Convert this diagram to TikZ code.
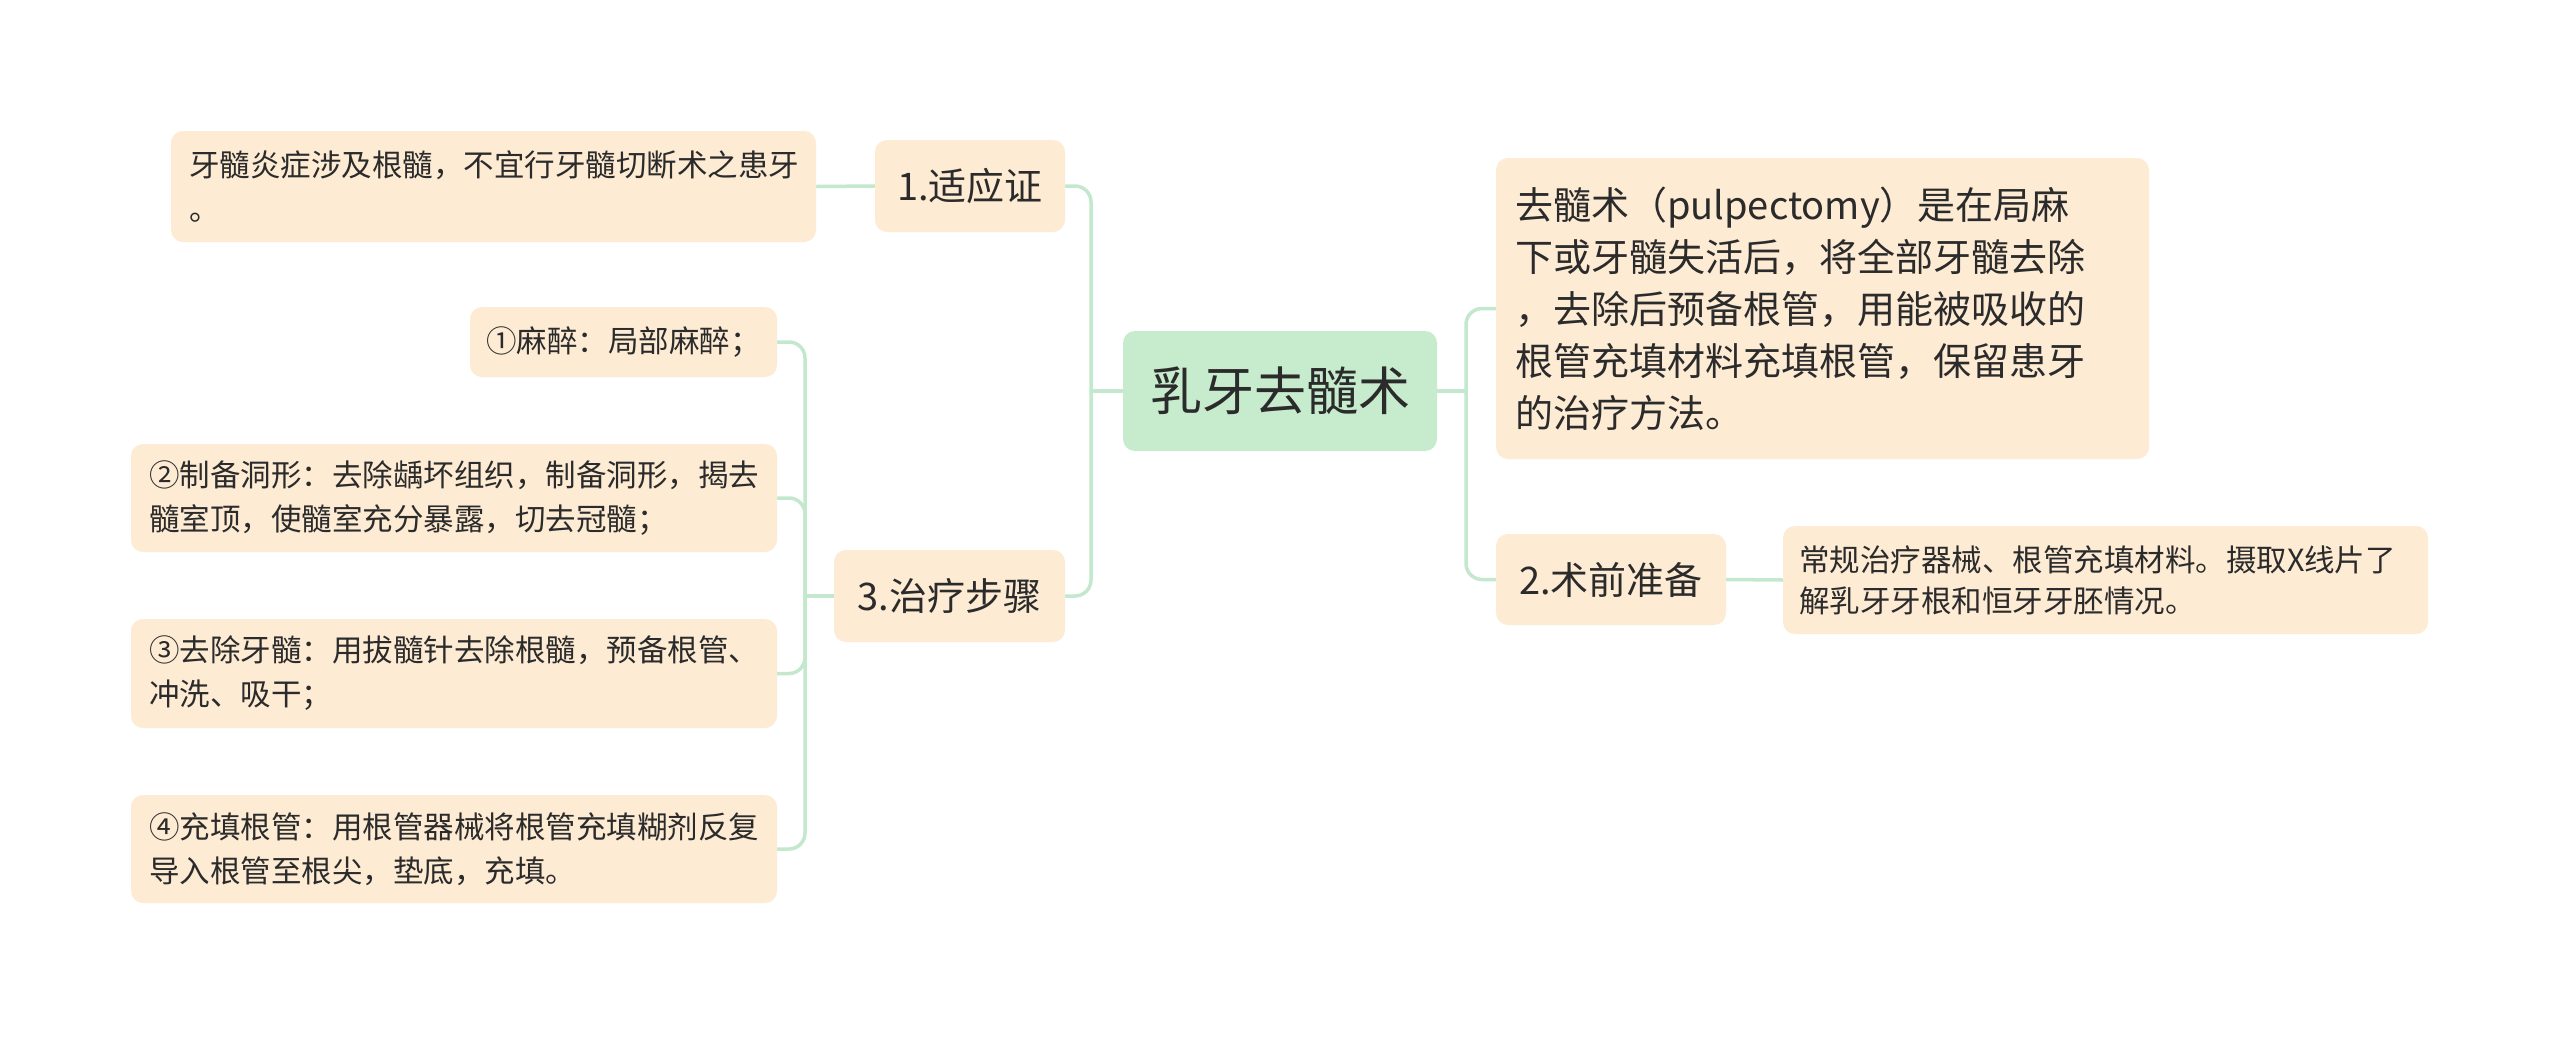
\documentclass[tikz,border=0pt]{standalone}
\usepackage{fontspec}
\setmainfont{Noto Sans CJK SC}
\usetikzlibrary{backgrounds}
\definecolor{peach}{HTML}{FDEBD4}
\definecolor{mint}{HTML}{C6EBCD}
\definecolor{linegreen}{HTML}{C4E8CD}
\definecolor{txt}{HTML}{2B2B2B}
\tikzset{
  base/.style={rounded corners=12pt, text=txt, inner ysep=0pt, align=left},
  rootbox/.style={base, fill=mint, minimum width=314pt, minimum height=120pt, align=center, font=\fontsize{52}{62}\selectfont},
  topicbox/.style={base, fill=peach, inner xsep=14pt, font=\fontsize{38}{52}\selectfont},
  leafbox/.style={base, fill=peach, inner xsep=18pt, font=\fontsize{30.5}{44}\selectfont},
  conn/.style={draw=linegreen, line width=3.5pt, rounded corners=16pt}
}
\begin{document}
\begin{tikzpicture}[x=1pt,y=-1pt]
\useasboundingbox (0,0) rectangle (2560,1037);
% root
\node[rootbox] (root) at (1280,391) {乳牙去髓术};
% right side
\node[topicbox, text width=615pt, inner xsep=19pt, minimum height=301pt] (desc) at (1822.5,308.5)
  {去髓术（pulpectomy）是在局麻\\下或牙髓失活后，将全部牙髓去除\\，去除后预备根管，用能被吸收的\\根管充填材料充填根管，保留患牙\\的治疗方法。};
\node[topicbox, minimum width=230pt, minimum height=91pt, align=center] (prep) at (1611,579.5) {2.术前准备};
\node[leafbox, text width=613pt, inner xsep=16pt, minimum height=108pt, font=\fontsize{30.5}{41}\selectfont] (prepd) at (2105.5,580)
  {常规治疗器械、根管充填材料。摄取X线片了\\解乳牙牙根和恒牙牙胚情况。};
% left side
\node[topicbox, minimum width=190pt, minimum height=92pt, align=center] (ind) at (970,186) {1.适应证};
\node[leafbox, text width=609pt, minimum height=111pt] (indd) at (493.5,186.5)
  {牙髓炎症涉及根髓，不宜行牙髓切断术之患牙\\。};
\node[topicbox, minimum width=231pt, minimum height=92pt, align=center] (steps) at (949.5,596) {3.治疗步骤};
\node[leafbox, minimum width=307pt, minimum height=70pt, inner xsep=14pt] (s1) at (623.5,342) {①麻醉：局部麻醉；};
\node[leafbox, text width=610pt, minimum height=108pt] (s2) at (454,498)
  {②制备洞形：去除龋坏组织，制备洞形，揭去\\髓室顶，使髓室充分暴露，切去冠髓；};
\node[leafbox, text width=610pt, minimum height=109pt] (s3) at (454,673.5)
  {③去除牙髓：用拔髓针去除根髓，预备根管、\\冲洗、吸干；};
\node[leafbox, text width=610pt, minimum height=108pt] (s4) at (454,849)
  {④充填根管：用根管器械将根管充填糊剂反复\\导入根管至根尖，垫底，充填。};
% bus coordinates
\coordinate (lb) at (1091,391);
\coordinate (rb) at (1466,391);
\coordinate (sb) at (805,596);
% connectors
\begin{scope}[on background layer]
\fill[white] (0,0) rectangle (2560,1037);
\draw[conn] (root.west) -- (lb);
\draw[conn] (ind.west) -| (lb);
\draw[conn] (steps.west) -| (lb);
\draw[conn] (root.east) -- (rb);
\draw[conn] (desc.west) -| (rb);
\draw[conn] (prep.west) -| (rb);
\draw[conn] (prep.east) -- (prepd.west);
\draw[conn] (ind.west) -- (indd.east);
\draw[conn] (steps.west) -- (sb);
\draw[conn] (s1.east) -| (sb);
\draw[conn] (s2.east) -| (sb);
\draw[conn] (s3.east) -| (sb);
\draw[conn] (s4.east) -| (sb);
\end{scope}
\end{tikzpicture}
\end{document}
